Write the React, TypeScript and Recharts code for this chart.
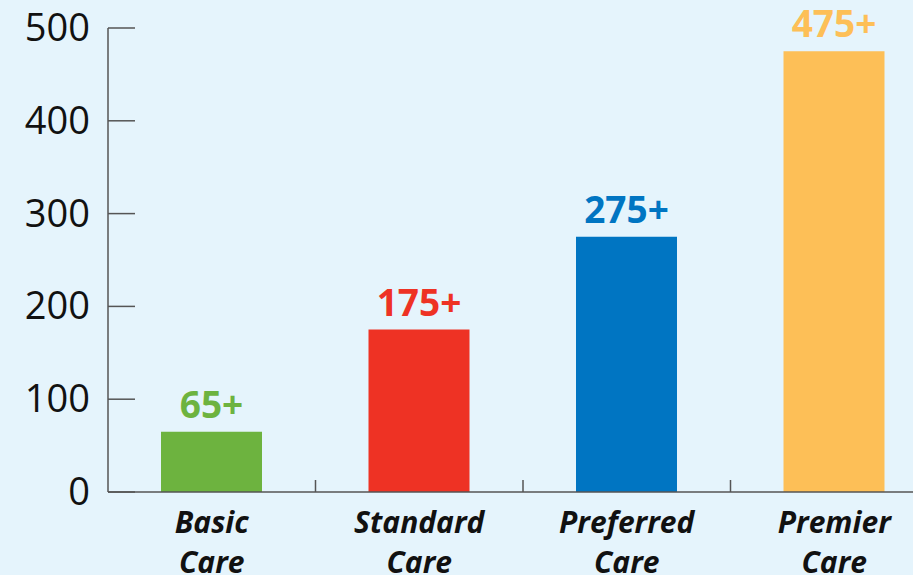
import { BarChart, Bar, XAxis, YAxis, Cell, LabelList } from "recharts";

const categories = ["Basic Care", "Standard Care", "Preferred Care", "Premier Care"];
const values = [65, 175, 275, 475];
const valueLabels = ["65+", "175+", "275+", "475+"];
const yTicks = [0, 100, 200, 300, 400, 500];

const colors = ["#6db33f", "#ee3224", "#0075c2", "#fdbf57"];

const W = 940;
const H = 575;
const AXIS_X = 108;
const X_AXIS_H = 83;
const AXIS_Y = H - X_AXIS_H;
const BAND = (W - 2 - AXIS_X) / categories.length;

const data = categories.map((name, i) => ({ name, value: values[i], label: valueLabels[i] }));

function YTick({ y, payload }: any) {
  return (
    <g>
      <line x1={AXIS_X} x2={AXIS_X + 27} y1={y} y2={y} stroke="#555" strokeWidth={1.5} />
      <text x={90} y={y} dy={13} textAnchor="end" fontSize={38} fontFamily="Open Sans" fill="#111">
        {payload.value}
      </text>
    </g>
  );
}

function XTick({ x, payload, index }: any) {
  const [l1, l2] = String(payload.value).split(" ");
  return (
    <g>
      {index < categories.length - 1 && (
        <line x1={x + BAND / 2} x2={x + BAND / 2} y1={AXIS_Y} y2={AXIS_Y - 12} stroke="#555" strokeWidth={1.5} />
      )}
      <text textAnchor="middle" fontSize={30} fontWeight="bold" fontStyle="italic" fontFamily="Open Sans" fill="#111">
        <tspan x={x} y={AXIS_Y + 41}>{l1}</tspan>
        <tspan x={x} y={AXIS_Y + 81}>{l2}</tspan>
      </text>
    </g>
  );
}

function ValueLabel({ x, y, width, index, value }: any) {
  return (
    <text x={x + width / 2} y={y - 14} textAnchor="middle" fontSize={37} fontWeight="bold" fontFamily="Open Sans" fill={colors[index]}>
      {value}
    </text>
  );
}

export default function App() {
  return (
    <div style={{ position: "fixed", left: 0, top: 0, width: 913, height: 575, overflow: "hidden", background: "#e5f4fc" }}>
      <BarChart width={W} height={H} data={data} margin={{ top: 28, right: 2, left: 0, bottom: 0 }}>
        <XAxis
          dataKey="name"
          interval={0}
          height={X_AXIS_H}
          tickLine={false}
          axisLine={{ stroke: "#555", strokeWidth: 1.5 }}
          tick={<XTick />}
        />
        <YAxis
          domain={[0, 500]}
          ticks={yTicks}
          width={AXIS_X}
          tickLine={false}
          axisLine={{ stroke: "#555", strokeWidth: 1.5 }}
          tick={<YTick />}
        />
        <Bar dataKey="value" barSize={101} isAnimationActive={false}>
          {data.map((d, i) => (
            <Cell key={d.name} fill={colors[i]} />
          ))}
          <LabelList dataKey="label" content={<ValueLabel />} />
        </Bar>
      </BarChart>
    </div>
  );
}
